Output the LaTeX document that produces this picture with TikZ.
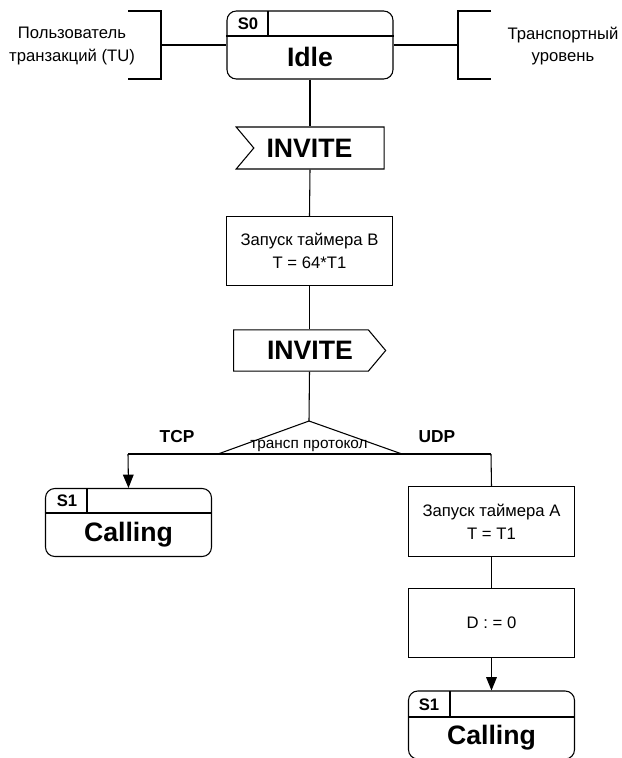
\documentclass[tikz,border=0pt]{standalone}
\usepackage{fontspec}
\setmainfont{Liberation Sans}
\usetikzlibrary{shapes.symbols,arrows.meta}

\newcommand{\sdlbig}{\bfseries\fontsize{20}{24}\selectfont}
\newcommand{\sdlsmall}{\fontsize{12.5}{17}\selectfont}

\tikzstyle{state} = [rectangle, draw, rounded corners=7pt,
    minimum width=124.5pt, minimum height=51pt, inner sep=0pt]
\tikzstyle{stnum} = [font=\bfseries\fontsize{12.5}{14}\selectfont, inner sep=0pt]
\tikzstyle{stname} = [font=\sdlbig, inner sep=0pt]
\tikzstyle{task} = [rectangle, draw, align=center, font=\sdlsmall,
    minimum width=124.5pt, minimum height=52pt]
\tikzstyle{sigin} = [signal, draw, signal from=west, signal to=nowhere,
    signal pointer angle=100, minimum width=111pt, minimum height=31.5pt]
\tikzstyle{sigout} = [signal, draw, signal to=east, signal from=nowhere,
    signal pointer angle=100, minimum width=114pt, minimum height=31pt]
\tikzstyle{note} = [align=center, font=\sdlsmall]
\tikzstyle{branch} = [font=\bfseries\fontsize{13}{15}\selectfont]
\tikzstyle{arr} = [-{Triangle[length=10pt,width=8pt]}]

\begin{document}
\begin{tikzpicture}[x=0.75pt,y=-0.75pt,line width=0.8pt]
	\useasboundingbox (0,0) rectangle (622,758);
	%
	\node [state] (idle) at (310,45) {};
	\node [stnum] (idlenum) at (248,24) {S0};
	\node [stname] (idlename) at (310,57) {Idle};
	\draw (idle.west |- 0,36) -- (idle.east |- 0,36);
	\draw (268,11) -- (268,36);
	%
	\node [note] (tu) at (72,46) {Пользователь\\транзакций (TU)};
	\draw (128,11) -| (161,79) -- (128,79);
	\coordinate (tuport) at (161,45);
	\node [note] (tl) at (563,46) {Транспортный\\уровень};
	\draw (491,11) -| (458,79) -- (491,79);
	\coordinate (tlport) at (458,45);
	\draw (tuport) -- (idle.west);
	\draw (idle.east) -- (tlport);
	%
	\node [sigin] (invin) at (319,148) {};
	\node [stname] (invinname) at (309.5,148) {INVITE};
	\node [task] (timerb) at (309.5,251) {Запуск таймера B\\T = 64*T1};
	\node [sigout] (invout) at (301,350.5) {};
	\node [stname] (invoutname) at (310,350.5) {INVITE};
	\draw (idle.south) -- (idle.south |- invin.north);
	\draw (idle.south |- invin.south) -- (timerb.north);
	\draw (timerb.south) -- (timerb.south |- invout.north);
	%
	\coordinate (apex) at (309,421);
	\coordinate (tcpc) at (128,454);
	\coordinate (udpc) at (491,454);
	\draw (apex) -- (402,454) -- (218,454) -- cycle;
	\node [font=\fontsize{11.5}{13}\selectfont, inner sep=0pt] (proto) at (309,446) {трансп протокол};
	\draw (timerb.south |- invout.south) -- (apex);
	\draw (tcpc) -- (udpc);
	\node [branch] (tcp) at (177,437) {TCP};
	\node [branch] (udp) at (437,437) {UDP};
	%
	\node [state] (calla) at (128.5,522.5) {};
	\node [stnum] (callanum) at (67,501) {S1};
	\node [stname] (callaname) at (128.5,535) {Calling};
	\draw (calla.west |- 0,513) -- (calla.east |- 0,513);
	\draw (87,488) -- (87,513);
	\draw [arr] (tcpc) -- (calla.north);
	%
	\node [task] (timera) at (491.5,521.5) {Запуск таймера A\\T = T1};
	\node [task] (dset) at (491.5,623) {D : = 0};
	\node [state] (callb) at (491.5,725) {};
	\node [stnum] (callbnum) at (429,705) {S1};
	\node [stname] (callbname) at (491.5,737.5) {Calling};
	\draw (callb.west |- 0,717) -- (callb.east |- 0,717);
	\draw (450,691) -- (450,717);
	\draw (udpc) -- (timera.north);
	\draw (timera.south) -- (dset.north);
	\draw [arr] (dset.south) -- (callb.north);
\end{tikzpicture}
\end{document}
